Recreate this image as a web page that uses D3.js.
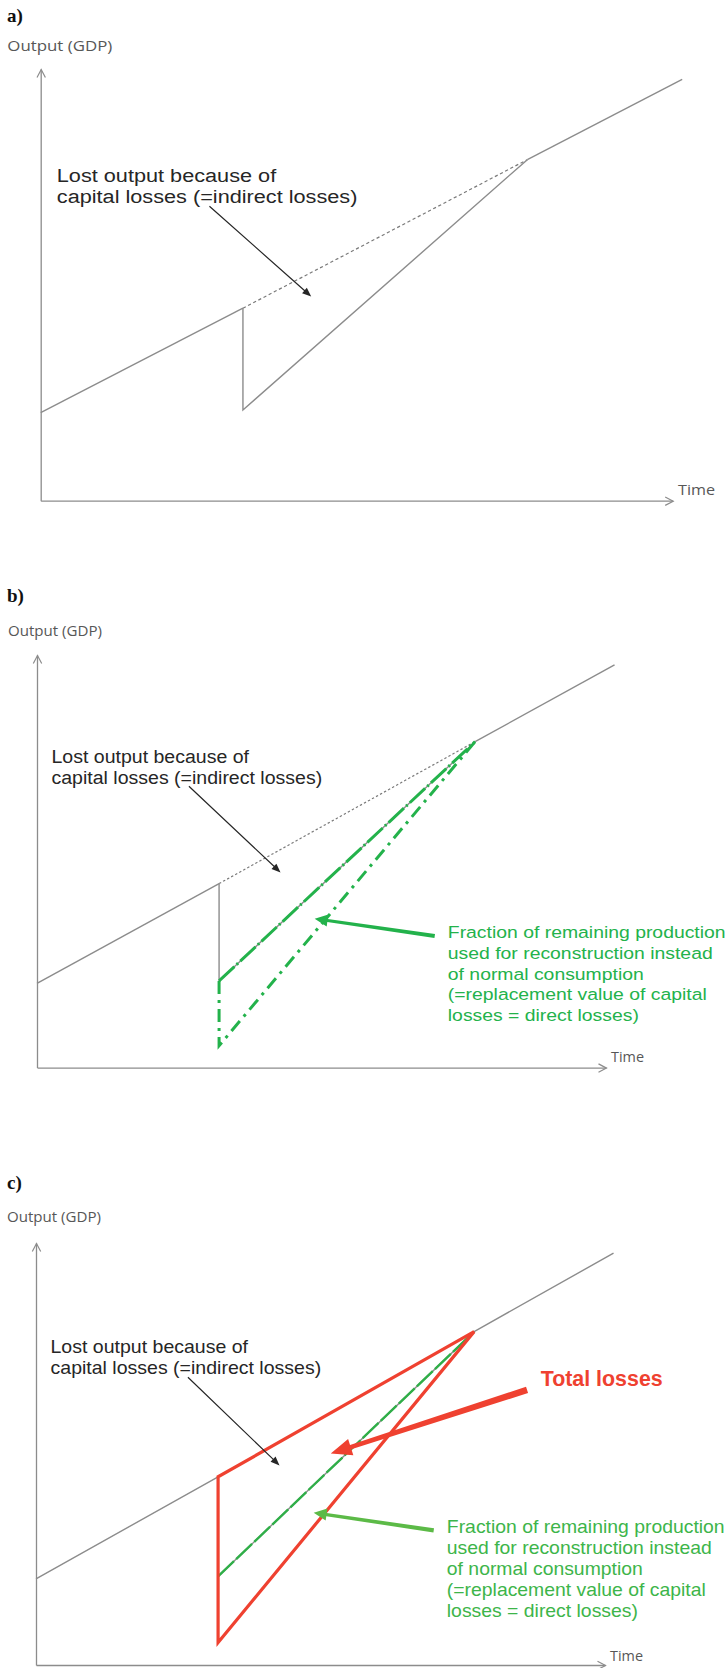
<!DOCTYPE html>
<html>
<head>
<meta charset="utf-8">
<script src="https://cdn.jsdelivr.net/npm/d3@7"></script>
<style>
html,body{margin:0;padding:0;background:#fff;}
svg{display:block;}
</style>
</head>
<body>
<svg id="chart" width="726" height="1668"></svg>
<script>
// ---------------- DATA (time units 0..100 along the time axis, output units 0..100 up the output axis) ----------------
const trendTime      = [0, 32, 77, 101.5];
const trendOutput    = [20.4, 44.6, 79.0, 97.6];
const shockTime      = [32, 32, 77];
const recoveryOutput = [44.6, 21.0, 79.0];   // output path after the shock (kink -> drop -> recovery)
const directOutput   = [21.0, 5.3, 79.0];    // path net of reconstruction spending (direct losses)

const pointerTime        = [26.7, 42.8];
const pointerOutput      = [68.2, 47.3];
const greenPointerTime   = [69.9, 48.8];
const greenPointerOutput = [31.9, 36.1];
const redPointerTime     = [86.3, 51.8];
const redPointerOutput   = [65.2, 50.1];

const panelLabels   = ["a)", "b)", "c)"];
const yAxisLabel    = "Output (GDP)";
const xAxisLabel    = "Time";
const lostLines     = ["Lost output because of", "capital losses (=indirect losses)"];
const fractionLines = ["Fraction of remaining production",
                       "used for reconstruction instead",
                       "of normal consumption",
                       "(=replacement value of capital",
                       "losses = direct losses)"];
const totalLabel    = "Total losses";

// ---------------- STYLE / LAYOUT ----------------
const GREY = "#8c8c8c", DOT = "#7a7a7a", INK = "#262626", LABEL = "#575757";
const GREEN_B = "#23b24b", GREEN_C = "#2fae48", GREEN_C_TXT = "#3db54a", GREEN_C_ARW = "#5cba47";
const RED = "#ef4130";

const panels = [
  {x0: 40.7, x1: 672.7, y0: 500.7, y1: 69,   lab: [7, 21.5],  yl: [7.3, 50.5, 105], tl: [678, 494.5, 37]},
  {x0: 37,   x1: 606,   y0: 1067.6, y1: 655, lab: [7, 602],   yl: [8, 635.5, 94],   tl: [611, 1062, 33]},
  {x0: 36,   x1: 605,   y0: 1665,  y1: 1243, lab: [7, 1189],  yl: [7, 1222, 94],    tl: [610, 1660.5, 33]}
];

const svg = d3.select("#chart");
const defs = svg.append("defs");
defs.append("marker")
  .attr("id", "axisArrow")
  .attr("viewBox", "-10 -6 12 12")
  .attr("refX", 0).attr("refY", 0)
  .attr("markerWidth", 12).attr("markerHeight", 12)
  .attr("markerUnits", "userSpaceOnUse")
  .attr("orient", "auto")
  .append("path")
  .attr("d", "M-8,-4.2L0,0L-8,4.2")
  .attr("fill", "none").attr("stroke", GREY).attr("stroke-width", 1.2);

const zip = (a, b) => a.map((v, i) => [v, b[i]]);
const trend = zip(trendTime, trendOutput);
const recovery = zip(shockTime, recoveryOutput);
const direct = zip(shockTime, directOutput);

function arrowPoly(p0, p1, tailHalf, neckHalf, headHalf, headLen) {
  const dx = p1[0] - p0[0], dy = p1[1] - p0[1];
  const L = Math.hypot(dx, dy);
  const ux = dx / L, uy = dy / L, nx = -uy, ny = ux;
  const neck = [p1[0] - ux * headLen, p1[1] - uy * headLen];
  return [
    [p0[0] + nx * tailHalf, p0[1] + ny * tailHalf],
    [neck[0] + nx * neckHalf, neck[1] + ny * neckHalf],
    [neck[0] + nx * headHalf, neck[1] + ny * headHalf],
    p1,
    [neck[0] - nx * headHalf, neck[1] - ny * headHalf],
    [neck[0] - nx * neckHalf, neck[1] - ny * neckHalf],
    [p0[0] - nx * tailHalf, p0[1] - ny * tailHalf]
  ];
}

panels.forEach((p, i) => {
  const x = d3.scaleLinear().domain([0, 100]).range([p.x0, p.x1]);
  const y = d3.scaleLinear().domain([0, 100]).range([p.y0, p.y1]);
  const kx = (p.x1 - p.x0) / 100, ky = (p.y0 - p.y1) / 100;
  const line = d3.line().x(d => x(d[0])).y(d => y(d[1]));
  const g = svg.append("g");

  // panel label
  g.append("text").attr("x", p.lab[0]).attr("y", p.lab[1])
    .attr("font-family", "Liberation Serif, Times New Roman, serif")
    .attr("font-weight", "bold").attr("font-size", 19).attr("fill", "#111")
    .text(panelLabels[i]);

  // axis titles
  g.append("text").attr("x", p.yl[0]).attr("y", p.yl[1])
    .attr("font-family", "Open Sans, sans-serif").attr("font-size", 14.5)
    .attr("fill", LABEL).attr("textLength", p.yl[2]).attr("lengthAdjust", "spacingAndGlyphs")
    .text(yAxisLabel);
  g.append("text").attr("x", p.tl[0]).attr("y", p.tl[1])
    .attr("font-family", "Open Sans, sans-serif").attr("font-size", 14.5)
    .attr("fill", LABEL).attr("textLength", p.tl[2]).attr("lengthAdjust", "spacingAndGlyphs")
    .text(xAxisLabel);

  // axes
  const xAxis = g.append("g").attr("transform", `translate(0,${y(0)})`)
    .call(d3.axisBottom(x).tickValues([]).tickSizeOuter(0));
  const yAxis = g.append("g").attr("transform", `translate(${x(0)},0)`)
    .call(d3.axisLeft(y).tickValues([]).tickSizeOuter(0));
  [xAxis, yAxis].forEach(a => a.select(".domain")
    .attr("stroke", GREY).attr("stroke-width", 1.3).attr("marker-end", "url(#axisArrow)"));

  const greyPath = (data, dash) => g.append("path").attr("d", line(data))
    .attr("fill", "none").attr("stroke", dash ? DOT : GREY)
    .attr("stroke-width", dash ? 1.2 : 1.4)
    .attr("stroke-dasharray", dash || null);

  if (i < 2) {
    greyPath(trend.slice(0, 2));
    greyPath(trend.slice(1, 3), i === 0 ? "3.2,2.6" : "2.4,2.2");
    greyPath(trend.slice(2, 4));
    greyPath(recovery);
  } else {
    greyPath(trend);
    greyPath(recovery.slice(1, 3));
  }

  if (i === 1) {
    g.append("path").attr("d", line(recovery.slice(1, 3)))
      .attr("fill", "none").attr("stroke", GREEN_B).attr("stroke-width", 3)
      .attr("stroke-dasharray", "21,3,2,3");
    g.append("path").attr("d", line(direct))
      .attr("fill", "none").attr("stroke", GREEN_B).attr("stroke-width", 3)
      .attr("stroke-dasharray", "13,6,3,6");
  }
  if (i === 2) {
    g.append("path").attr("d", line(recovery.slice(1, 3)))
      .attr("fill", "none").attr("stroke", GREEN_C).attr("stroke-width", 2.4)
      .attr("stroke-dasharray", "22,3");
    const redTri = [recovery[0], direct[1], direct[2]];
    g.append("path").attr("d", line(redTri) + "Z")
      .attr("fill", "none").attr("stroke", RED).attr("stroke-width", 3.2)
      .attr("stroke-linejoin", "miter");
  }

  // black pointer
  const bp = zip(pointerTime, pointerOutput).map(d => [x(d[0]), y(d[1])]);
  g.append("path").attr("d", d3.line()(arrowPoly(bp[0], bp[1], 0.6, 0.6, 3.6, 9)) + "Z")
    .attr("fill", INK).attr("stroke", "none");

  // lost output text
  const lostFont = 4.4 * ky, lostSx = 0.78 * kx / ky;
  const lostBase = [73.85, 68.85];
  lostLines.forEach((t, j) => {
    g.append("text")
      .attr("transform", `translate(${x(2.55)},${y(lostBase[j])}) scale(${lostSx},1)`)
      .attr("font-family", "Liberation Sans, Arial, sans-serif")
      .attr("font-size", lostFont).attr("fill", INK).text(t);
  });

  if (i >= 1) {
    const gp = zip(greenPointerTime, greenPointerOutput).map(d => [x(d[0]), y(d[1])]);
    g.append("path").attr("d", d3.line()(arrowPoly(gp[0], gp[1], 2.1, 1.6, 6, 13)) + "Z")
      .attr("fill", i === 1 ? GREEN_B : GREEN_C_ARW);
    const fFont = 4.17 * ky, fSx = 0.817 * kx / ky;
    fractionLines.forEach((t, j) => {
      g.append("text")
        .attr("transform", `translate(${x(72.2)},${y(31.3 - 5 * j)}) scale(${fSx},1)`)
        .attr("font-family", "Liberation Sans, Arial, sans-serif")
        .attr("font-size", fFont).attr("fill", i === 1 ? GREEN_B : GREEN_C_TXT).text(t);
    });
  }

  if (i === 2) {
    const rp = zip(redPointerTime, redPointerOutput).map(d => [x(d[0]), y(d[1])]);
    g.append("path").attr("d", d3.line()(arrowPoly(rp[0], rp[1], 3.3, 2.2, 8.5, 21)) + "Z")
      .attr("fill", RED);
    g.append("text").attr("x", x(88.7)).attr("y", y(66))
      .attr("font-family", "Liberation Sans, Arial, sans-serif")
      .attr("font-weight", "bold").attr("font-size", 21.5).attr("fill", RED)
      .attr("textLength", 122).attr("lengthAdjust", "spacingAndGlyphs")
      .text(totalLabel);
  }
});
</script>
</body>
</html>
